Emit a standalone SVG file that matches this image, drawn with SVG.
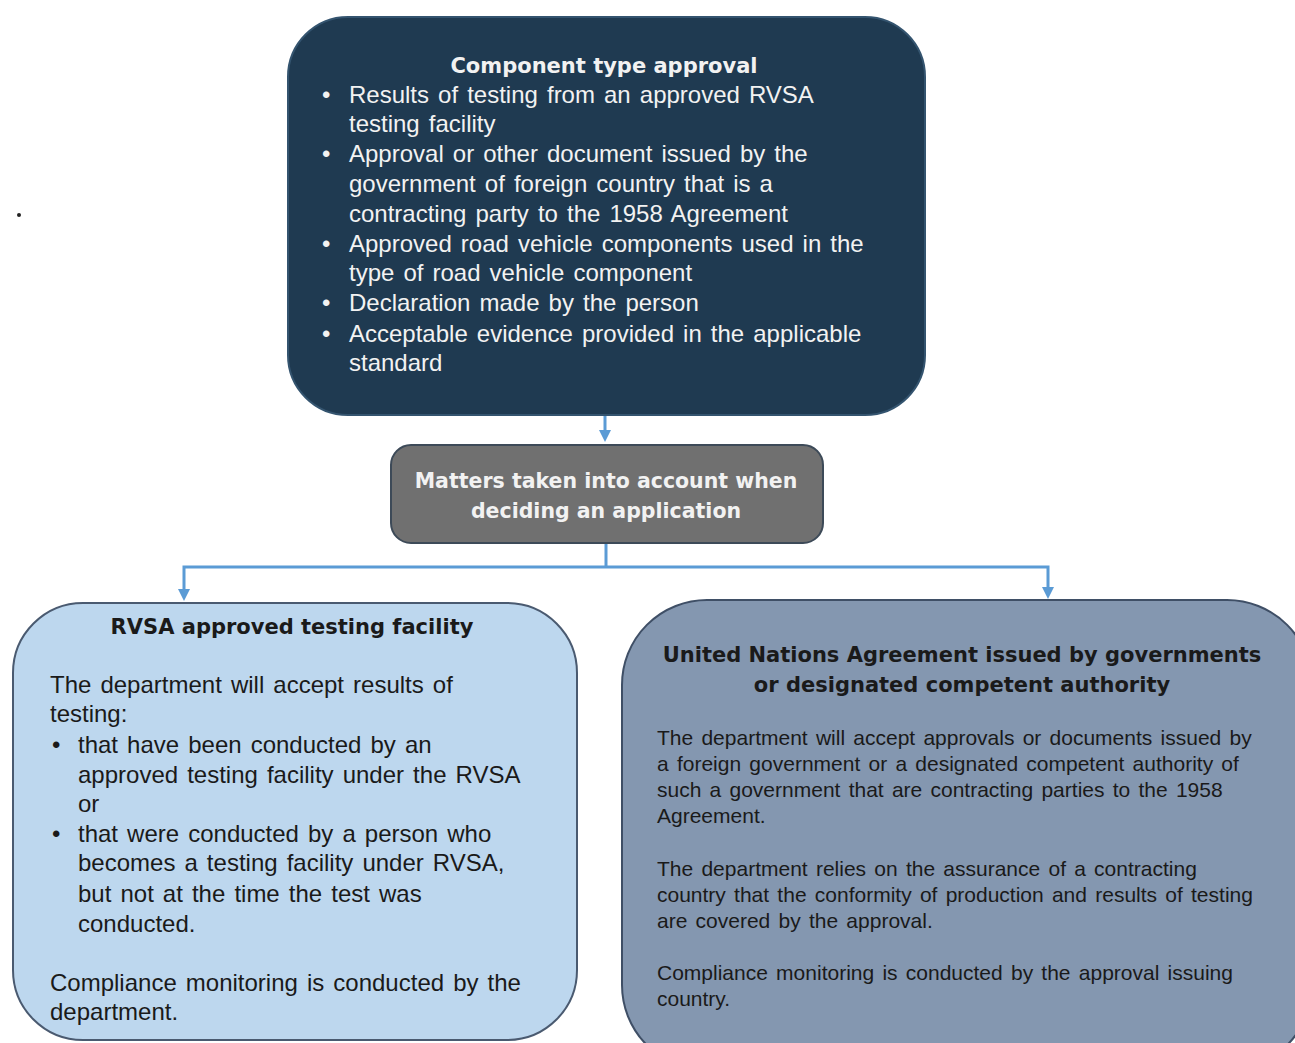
<svg xmlns="http://www.w3.org/2000/svg" width="1295" height="1043" viewBox="0 0 1295 1043">
<style>
.body{font-family:"Liberation Sans",Arial,sans-serif;font-size:24px;word-spacing:2.4px;}
.title{font-family:"DejaVu Sans",Verdana,sans-serif;font-weight:bold;font-size:21px;text-anchor:middle;}
.w{fill:#f2f2f2;}
.k{fill:#1a1a1a;}
.conn{stroke:#5b9bd5;stroke-width:3;fill:none;}
</style>
<rect width="1295" height="1043" fill="#ffffff"/>
<circle cx="19" cy="215" r="2" fill="#222"/>

<g id="connectors">
<line class="conn" x1="605" y1="416" x2="605" y2="432"/>
<path d="M599,430 L611,430 L605,442 Z" fill="#5b9bd5"/>
<polyline class="conn" points="606,544 606,567"/>
<polyline class="conn" points="184,590 184,567 1048,567 1048,588"/>
<path d="M178,589 L190,589 L184,601 Z" fill="#5b9bd5"/>
<path d="M1042,587 L1054,587 L1048,599 Z" fill="#5b9bd5"/>
</g>

<g id="component-type-approval">
<rect x="288" y="17" width="637" height="398" rx="60" fill="#1f3a51" stroke="#34546f" stroke-width="2"/>
<text class="title w" x="604" y="73">Component type approval</text>
<g class="body w">
<text x="322" y="103">•</text>
<text x="349" y="103">Results of testing from an approved RVSA</text>
<text x="349" y="132">testing facility</text>
<text x="322" y="162">•</text>
<text x="349" y="162">Approval or other document issued by the</text>
<text x="349" y="192">government of foreign country that is a</text>
<text x="349" y="222">contracting party to the 1958 Agreement</text>
<text x="322" y="252">•</text>
<text x="349" y="252">Approved road vehicle components used in the</text>
<text x="349" y="281">type of road vehicle component</text>
<text x="322" y="311">•</text>
<text x="349" y="311">Declaration made by the person</text>
<text x="322" y="342">•</text>
<text x="349" y="342">Acceptable evidence provided in the applicable</text>
<text x="349" y="371">standard</text>
</g>
</g>

<g id="matters">
<rect x="391" y="445" width="432" height="98" rx="20" fill="#707070" stroke="#3d4a58" stroke-width="2"/>
<text class="title w" x="606" y="488" style="font-size:20.5px">Matters taken into account when</text>
<text class="title w" x="606" y="518" style="font-size:20.5px">deciding an application</text>
</g>

<g id="rvsa-facility">
<rect x="13" y="603" width="564" height="437" rx="70" fill="#bdd7ee" stroke="#4a5a70" stroke-width="2"/>
<text class="title k" x="292" y="634">RVSA approved testing facility</text>
<g class="body k">
<text x="50" y="693">The department will accept results of</text>
<text x="50" y="722">testing:</text>
<text x="52" y="753">•</text>
<text x="78" y="753">that have been conducted by an</text>
<text x="78" y="783">approved testing facility under the RVSA</text>
<text x="78" y="812">or</text>
<text x="52" y="842">•</text>
<text x="78" y="842">that were conducted by a person who</text>
<text x="78" y="871">becomes a testing facility under RVSA,</text>
<text x="78" y="902">but not at the time the test was</text>
<text x="78" y="932">conducted.</text>
<text x="50" y="991">Compliance monitoring is conducted by the</text>
<text x="50" y="1020">department.</text>
</g>
</g>

<g id="un-agreement">
<rect x="622" y="600" width="690" height="470" rx="85" fill="#8497b0" stroke="#3f4f66" stroke-width="2"/>
<text class="title k" x="962" y="662">United Nations Agreement issued by governments</text>
<text class="title k" x="962" y="692">or designated competent authority</text>
<g class="body k" style="font-size:21px">
<text x="657" y="745">The department will accept approvals or documents issued by</text>
<text x="657" y="771">a foreign government or a designated competent authority of</text>
<text x="657" y="797">such a government that are contracting parties to the 1958</text>
<text x="657" y="823">Agreement.</text>
<text x="657" y="876">The department relies on the assurance of a contracting</text>
<text x="657" y="902">country that the conformity of production and results of testing</text>
<text x="657" y="928">are covered by the approval.</text>
<text x="657" y="980">Compliance monitoring is conducted by the approval issuing</text>
<text x="657" y="1006">country.</text>
</g>
</g>
</svg>
